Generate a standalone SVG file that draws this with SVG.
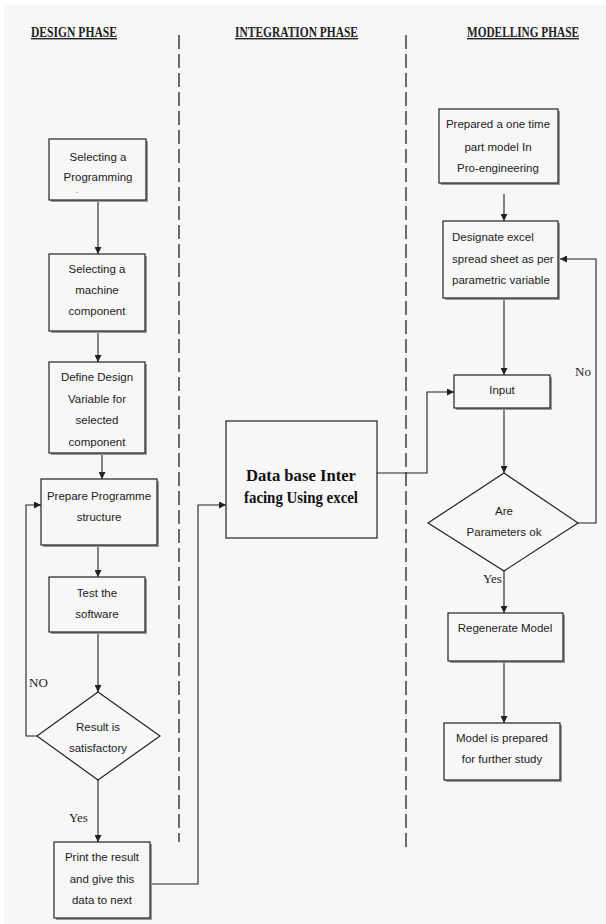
<svg xmlns="http://www.w3.org/2000/svg" width="606" height="924" viewBox="0 0 606 924">
<style>
.bg{fill:#f7f7f7}
.box{fill:#f7f7f7;stroke:#222;stroke-width:1.2}
.sh{fill:#9a9a9a}
.t{font-family:"Liberation Sans",Arial,sans-serif;font-size:11.5px;fill:#222;text-anchor:middle}
.tl{font-family:"Liberation Sans",Arial,sans-serif;font-size:11.5px;fill:#222}
.h{font-family:"Liberation Serif","Times New Roman",serif;font-size:14px;font-weight:bold;fill:#222;text-decoration:underline}
.lb{font-family:"Liberation Serif","Times New Roman",serif;font-size:13px;fill:#222}
.db{font-family:"Liberation Serif","Times New Roman",serif;font-size:16px;font-weight:bold;fill:#111;text-anchor:middle}
.c{fill:none;stroke:#222;stroke-width:1.1}
.d{fill:none;stroke:#222;stroke-width:1.3;stroke-dasharray:14,5}
</style>
<defs>
<marker id="ah" viewBox="0 0 10 10" refX="10" refY="5" markerWidth="7" markerHeight="7" markerUnits="userSpaceOnUse" orient="auto">
<path d="M0,0 L10,5 L0,10 z" fill="#222"/>
</marker>
</defs>
<rect x="0" y="0" width="606" height="924" fill="#fff"/>
<rect class="bg" x="4" y="5" width="602" height="919"/>

<g id="titles">
<text class="h" x="31" y="37" textLength="86" lengthAdjust="spacingAndGlyphs">DESIGN PHASE</text>
<text class="h" x="235" y="37" textLength="123" lengthAdjust="spacingAndGlyphs">INTEGRATION PHASE</text>
<text class="h" x="467" y="37" textLength="112" lengthAdjust="spacingAndGlyphs">MODELLING PHASE</text>
</g>
<g id="dividers">
<line class="d" x1="179" y1="35" x2="179" y2="842"/>
<line class="d" x1="406" y1="35" x2="406" y2="848"/>
</g>

<g id="connectors">
<line class="c" x1="98" y1="200" x2="98" y2="254" marker-end="url(#ah)"/>
<line class="c" x1="98" y1="331" x2="98" y2="362" marker-end="url(#ah)"/>
<line class="c" x1="102" y1="453" x2="102" y2="479" marker-end="url(#ah)"/>
<line class="c" x1="98" y1="545" x2="98" y2="577" marker-end="url(#ah)"/>
<line class="c" x1="98" y1="632" x2="98" y2="692" marker-end="url(#ah)"/>
<polyline class="c" points="37,736 26,736 26,505 41,505" marker-end="url(#ah)"/>
<line class="c" x1="98" y1="780" x2="98" y2="842" marker-end="url(#ah)"/>
<polyline class="c" points="150,884 198,884 198,505 226,505" marker-end="url(#ah)"/>
<polyline class="c" points="377,473 427,473 427,392 454,392" marker-end="url(#ah)"/>
<line class="c" x1="504" y1="194" x2="504" y2="221" marker-end="url(#ah)"/>
<line class="c" x1="504" y1="298" x2="504" y2="375" marker-end="url(#ah)"/>
<line class="c" x1="504" y1="408" x2="504" y2="473" marker-end="url(#ah)"/>
<polyline class="c" points="578,523 596,523 596,259 560,259" marker-end="url(#ah)"/>
<line class="c" x1="504" y1="571" x2="504" y2="613" marker-end="url(#ah)"/>
<line class="c" x1="504" y1="661" x2="504" y2="723" marker-end="url(#ah)"/>
<text class="lb" x="29" y="687">NO</text>
<text class="lb" x="69" y="822">Yes</text>
<text class="lb" x="575" y="376">No</text>
<text class="lb" x="483" y="583">Yes</text>
</g>

<g id="select-programming">
<rect class="sh" x="51" y="141" width="97" height="61"/>
<rect class="box" x="49" y="139" width="97" height="61"/>
<text class="t" x="98" y="161">Selecting a</text>
<text class="t" x="98" y="181">Programming</text>
<text class="t" x="77" y="193" style="font-size:8px">.</text>
</g>
<g id="select-component">
<rect class="sh" x="51" y="256" width="96" height="77"/>
<rect class="box" x="49" y="254" width="96" height="77"/>
<text class="t" x="97" y="273">Selecting a</text>
<text class="t" x="97" y="294">machine</text>
<text class="t" x="97" y="315">component</text>
</g>
<g id="define-variable">
<rect class="sh" x="51" y="364" width="96" height="91"/>
<rect class="box" x="49" y="362" width="96" height="91"/>
<text class="t" x="97" y="381">Define Design</text>
<text class="t" x="97" y="403">Variable for</text>
<text class="t" x="97" y="424">selected</text>
<text class="t" x="97" y="446">component</text>
</g>
<g id="prepare-structure">
<rect class="sh" x="43" y="481" width="116" height="66"/>
<rect class="box" x="41" y="479" width="116" height="66"/>
<text class="t" x="99" y="500">Prepare Programme</text>
<text class="t" x="99" y="521">structure</text>
</g>
<g id="test-software">
<rect class="sh" x="51" y="579" width="96" height="55"/>
<rect class="box" x="49" y="577" width="96" height="55"/>
<text class="t" x="97" y="597">Test the</text>
<text class="t" x="97" y="618">software</text>
</g>
<g id="result-satisfactory">
<polygon class="box" points="98,692 160,736 98,780 37,736"/>
<text class="t" x="98" y="731">Result is</text>
<text class="t" x="98" y="752">satisfactory</text>
</g>
<g id="print-result">
<rect class="sh" x="56" y="844" width="96" height="76"/>
<rect class="box" x="54" y="842" width="96" height="76"/>
<text class="t" x="102" y="861">Print the result</text>
<text class="t" x="102" y="883">and give this</text>
<text class="t" x="102" y="904">data to next</text>
</g>
<g id="database-interfacing">
<rect class="box" x="226" y="421" width="151" height="117"/>
<text class="db" x="301" y="481" textLength="110" lengthAdjust="spacingAndGlyphs">Data base Inter</text>
<text class="db" x="301" y="503" textLength="114" lengthAdjust="spacingAndGlyphs">facing Using excel</text>
</g>
<g id="prepared-model">
<rect class="sh" x="441" y="111" width="119" height="74"/>
<rect class="box" x="439" y="109" width="119" height="74"/>
<text class="t" x="498" y="128">Prepared a one time</text>
<text class="t" x="498" y="151">part model In</text>
<text class="t" x="498" y="172">Pro-engineering</text>
</g>
<g id="designate-sheet">
<rect class="sh" x="445" y="223" width="115" height="77"/>
<rect class="box" x="443" y="221" width="115" height="77"/>
<text class="tl" x="452" y="241">Designate excel</text>
<text class="tl" x="452" y="263">spread sheet as per</text>
<text class="tl" x="452" y="284">parametric variable</text>
</g>
<g id="input">
<rect class="sh" x="456" y="377" width="96" height="33"/>
<rect class="box" x="454" y="375" width="96" height="33"/>
<text class="t" x="502" y="394">Input</text>
</g>
<g id="parameters-ok">
<polygon class="box" points="504,473 578,523 504,571 428,523"/>
<text class="t" x="504" y="515">Are</text>
<text class="t" x="504" y="536">Parameters ok</text>
</g>
<g id="regenerate-model">
<rect class="sh" x="450" y="615" width="115" height="48"/>
<rect class="box" x="448" y="613" width="115" height="48"/>
<text class="t" x="505" y="632">Regenerate Model</text>
</g>
<g id="model-prepared">
<rect class="sh" x="446" y="725" width="116" height="57"/>
<rect class="box" x="444" y="723" width="116" height="57"/>
<text class="t" x="502" y="742">Model is prepared</text>
<text class="t" x="502" y="763">for further study</text>
</g>
</svg>
